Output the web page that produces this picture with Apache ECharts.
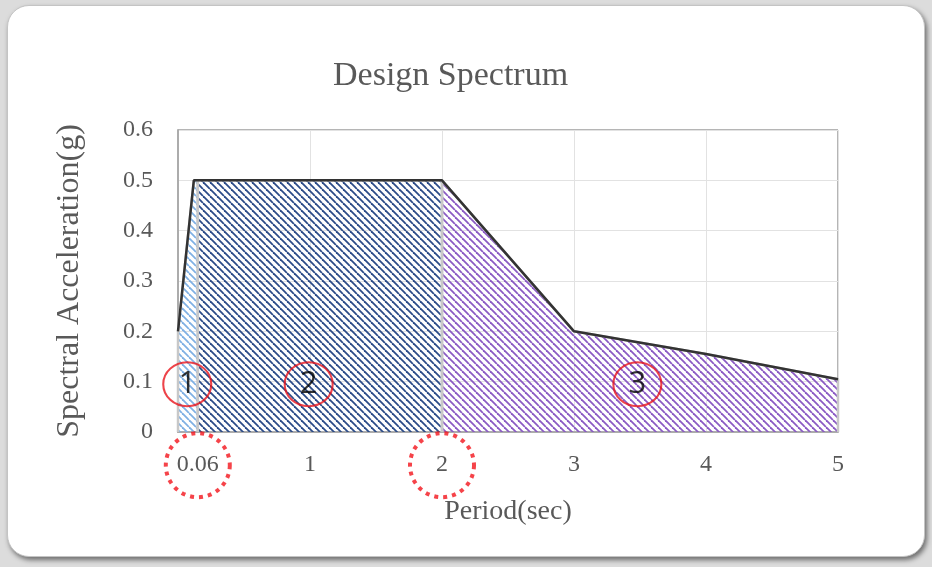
<!DOCTYPE html>
<html>
<head>
<meta charset="utf-8">
<script src="https://cdn.jsdelivr.net/npm/echarts@6.0.0/dist/echarts.min.js"></script>
<style>
    html, body { margin: 0; padding: 0; background: #dcdcdc; }
    #card {
        position: absolute; left: 7px; top: 5px; width: 916px; height: 550px;
        background: #fff; border: 1px solid #c4c4c4; border-radius: 22px;
        box-shadow: 2px 3px 5px rgba(0, 0, 0, 0.5);
    }
    #J_spectrum { position: absolute; left: 0; top: 0; width: 932px; height: 567px; }
</style>
</head>
<body>
<div id="card"></div>
<div id="J_spectrum"></div>
<script>
// design spectrum outline (period in sec, Sa in g)
var periods = [0, 0.12, 2, 3, 4, 5];
var spectralAcc = [0.2, 0.5, 0.5, 0.2, 0.155, 0.105];

// region limits along period axis
var regionBounds = [0, 0.15, 2, 5];
var regionColors = ['#7fb0e4', '#2a4a88', '#8a5ac4'];

// x tick labels (first one is drawn at the region 1 boundary)
var xTickValues = [0.15, 1, 2, 3, 4, 5];
var xTickLabels = ['0.06', '1', '2', '3', '4', '5'];

// circled region numbers
var regionNames = ['1', '2', '3'];
var regionLabelX = [0.07, 0.99, 3.48];
var regionLabelY = [0.095, 0.095, 0.095];

// dotted circles round x labels
var dottedX = [0.15, 2];
var dottedY = [-0.066, -0.066];

function saAt(t) {
    for (var i = 0; i < periods.length - 1; i++) {
        if (t >= periods[i] && t <= periods[i + 1]) {
            var f = (t - periods[i]) / (periods[i + 1] - periods[i]);
            return spectralAcc[i] + f * (spectralAcc[i + 1] - spectralAcc[i]);
        }
    }
    return spectralAcc[spectralAcc.length - 1];
}

function regionData(a, b) {
    var pts = [[a, 0], [a, saAt(a)]];
    for (var i = 0; i < periods.length; i++) {
        if (periods[i] > a && periods[i] < b) {
            pts.push([periods[i], spectralAcc[i]]);
        }
    }
    pts.push([b, saAt(b)]);
    pts.push([b, 0]);
    return pts;
}

function hatch(color) {
    var s = 7;
    var c = document.createElement('canvas');
    c.width = s;
    c.height = s;
    var ctx = c.getContext('2d');
    ctx.strokeStyle = color;
    ctx.lineWidth = 1.8;
    for (var k = -1; k <= 1; k++) {
        ctx.beginPath();
        ctx.moveTo(k * s, 0);
        ctx.lineTo(k * s + s, s);
        ctx.stroke();
    }
    return c;
}

var myChart = echarts.init(document.getElementById('J_spectrum'));

var serif = 'Liberation Serif';
var series = [];

// hatched fills
for (var r = 0; r < 3; r++) {
    series.push({
        type: 'line',
        name: 'region' + (r + 1),
        data: regionData(regionBounds[r], regionBounds[r + 1]),
        symbol: 'none',
        lineStyle: { width: 0 },
        areaStyle: {
            color: { image: hatch(regionColors[r]), repeat: 'repeat' },
            opacity: 1
        },
        z: 2
    });
}

// gray region borders on top of all fills
for (var q = 0; q < 3; q++) {
    series.push({
        type: 'line',
        name: 'border' + (q + 1),
        data: regionData(regionBounds[q], regionBounds[q + 1]),
        symbol: 'none',
        lineStyle: { color: '#c8c8c8', width: 2.5 },
        z: 3
    });
}

series.push({
    type: 'line',
    name: 'spectrum',
    data: periods.map(function (t, i) { return [t, spectralAcc[i]]; }),
    symbol: 'none',
    lineStyle: { color: '#333', width: 2.5 },
    z: 4
});

series.push({
    type: 'scatter',
    name: 'regions',
    data: regionNames.map(function (n, i) { return [regionLabelX[i], regionLabelY[i], n]; }),
    symbol: 'circle',
    symbolSize: [48, 44],
    clip: false,
    itemStyle: { color: 'rgba(0,0,0,0)', borderColor: '#e8141b', borderWidth: 2 },
    label: {
        show: true,
        position: 'inside',
        formatter: function (p) { return p.value[2]; },
        fontFamily: 'Open Sans',
        fontSize: 31,
        color: '#000'
    },
    z: 6
});

series.push({
    type: 'scatter',
    name: 'marks',
    data: dottedX.map(function (x, i) { return [x, dottedY[i]]; }),
    symbol: 'circle',
    symbolSize: 64,
    clip: false,
    itemStyle: {
        color: 'rgba(0,0,0,0)',
        borderColor: '#f2141b',
        borderWidth: 4,
        borderType: [4, 5]
    },
    z: 6
});

var option = {
    animation: false,
    title: {
        text: 'Design Spectrum',
        left: 333,
        top: 59,
        padding: 0,
        textStyle: { fontFamily: serif, fontSize: 34, fontWeight: 'normal', color: '#595959' }
    },
    grid: {
        left: 178,
        right: 94,
        top: 130,
        bottom: 135,
        show: true,
        borderColor: '#6a6a6a',
        borderWidth: 1
    },
    xAxis: {
        type: 'value',
        min: 0,
        max: 5,
        interval: 1,
        name: 'Period(sec)',
        nameLocation: 'middle',
        nameGap: 66,
        nameTextStyle: { fontFamily: serif, fontSize: 28, color: '#595959' },
        axisLine: { show: true, lineStyle: { color: '#acacac', width: 2 } },
        axisTick: { show: false },
        axisLabel: {
            customValues: xTickValues,
            margin: 21,
            fontFamily: serif,
            fontSize: 24,
            color: '#595959',
            formatter: function (v) {
                var i = xTickValues.indexOf(v);
                return i >= 0 ? xTickLabels[i] : '';
            }
        },
        splitLine: { show: true, lineStyle: { color: '#e2e2e2', width: 1 } }
    },
    yAxis: {
        type: 'value',
        min: 0,
        max: 0.6,
        interval: 0.1,
        name: 'Spectral Acceleration(g)',
        nameLocation: 'middle',
        nameGap: 92,
        nameTextStyle: { fontFamily: serif, fontSize: 32, color: '#595959' },
        axisLine: { show: true, lineStyle: { color: '#acacac', width: 2 } },
        axisTick: { show: false },
        axisLabel: {
            margin: 25,
            fontFamily: serif,
            fontSize: 24,
            color: '#595959',
            formatter: function (v) { return v === 0 ? '0' : v.toFixed(1); }
        },
        splitLine: { show: true, lineStyle: { color: '#e2e2e2', width: 1 } }
    },
    series: series
};

myChart.setOption(option);
</script>
</body>
</html>
